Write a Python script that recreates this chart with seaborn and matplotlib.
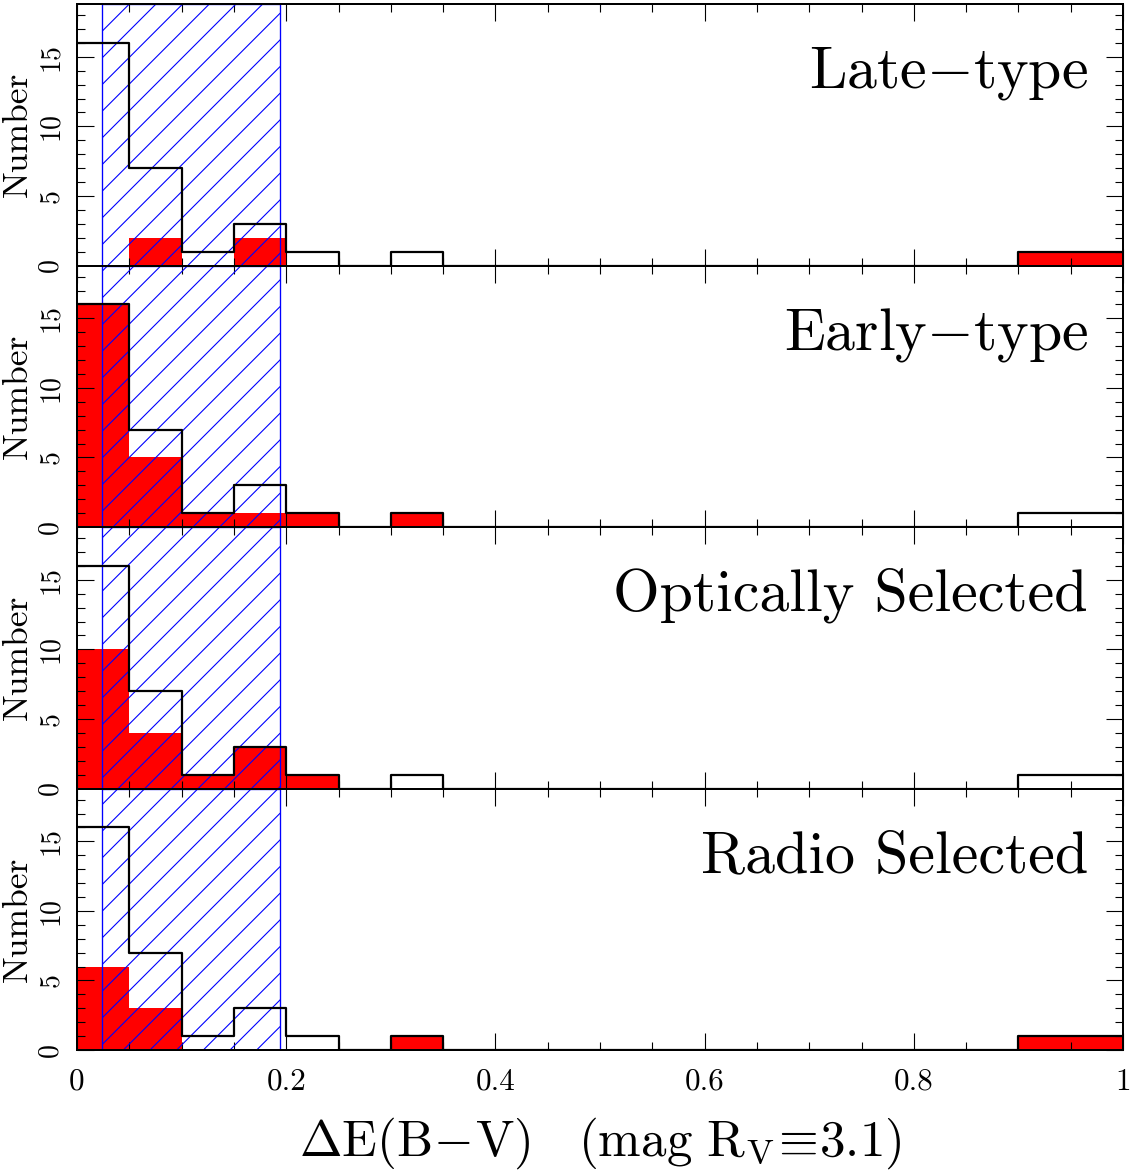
import pandas as pd
import matplotlib
matplotlib.use("Agg")
import matplotlib.pyplot as plt
import seaborn as sns
from matplotlib.ticker import MultipleLocator

# bins of Delta E(B-V), width 0.05 from 0 to 1
bin_edges = [round(0.05 * i, 2) for i in range(21)]
bin_centers = [round(0.05 * i + 0.025, 3) for i in range(20)]

# whole sample (black outline, same in every panel)
total_counts = [16, 7, 1, 3, 1, 0, 1, 0, 0, 0, 0, 0, 0, 0, 0, 0, 0, 0, 1, 1]

# subsets (red)
late_counts = [0, 2, 0, 2, 0, 0, 0, 0, 0, 0, 0, 0, 0, 0, 0, 0, 0, 0, 1, 1]
early_counts = [16, 5, 1, 1, 1, 0, 1, 0, 0, 0, 0, 0, 0, 0, 0, 0, 0, 0, 0, 0]
optical_counts = [10, 4, 1, 3, 1, 0, 0, 0, 0, 0, 0, 0, 0, 0, 0, 0, 0, 0, 0, 0]
radio_counts = [6, 3, 0, 0, 0, 0, 1, 0, 0, 0, 0, 0, 0, 0, 0, 0, 0, 0, 1, 1]

panel_names = [r"Late$-$type", r"Early$-$type", "Optically Selected", "Radio Selected"]
panel_counts = [late_counts, early_counts, optical_counts, radio_counts]

# hatched band
band_lo, band_hi = 0.024, 0.194

x_ticks = [0, 0.2, 0.4, 0.6, 0.8, 1.0]
x_ticklabels = ["0", "0.2", "0.4", "0.6", "0.8", "1"]
y_ticks = [0, 5, 10, 15]

DPI = 160  # hatch cell scales with dpi

plt.rcParams["font.family"] = "cmr10"
plt.rcParams["mathtext.fontset"] = "cm"
plt.rcParams["axes.formatter.use_mathtext"] = True
plt.rcParams["axes.unicode_minus"] = False
plt.rcParams["hatch.linewidth"] = 0.5

fig, axes = plt.subplots(4, 1, figsize=(1131 / DPI, 1173 / DPI), sharex=True)
fig.subplots_adjust(left=77 / 1131, right=1123 / 1131,
                    bottom=1 - 1050 / 1173, top=1 - 4 / 1173, hspace=0)

for ax, name, counts in zip(axes, panel_names, panel_counts):
    df = pd.DataFrame({"dE": bin_centers, "sub": counts, "all": total_counts})
    sns.histplot(data=df, x="dE", weights="sub", bins=bin_edges, element="step",
                 fill=True, color="#ff0000", alpha=1, linewidth=0, ax=ax, zorder=1)
    ax.axvspan(band_lo, band_hi, facecolor="none", edgecolor="#0000ff",
               hatch="//", linewidth=0.6, zorder=2)
    sns.histplot(data=df, x="dE", weights="all", bins=bin_edges, element="step",
                 fill=False, color="black", linewidth=1.0, ax=ax, zorder=3)

    ax.set_xlim(0, 1)
    ax.set_ylim(0, 18.8)

    ax.xaxis.set_major_locator(MultipleLocator(0.2))
    ax.xaxis.set_minor_locator(MultipleLocator(0.05))
    ax.set_yticks(y_ticks)
    ax.set_yticklabels([str(v) for v in y_ticks], rotation=90, va="center",
                       fontsize=12.5)
    ax.yaxis.set_minor_locator(MultipleLocator(1))
    ax.tick_params(which="both", direction="in", top=True, right=True,
                   width=0.5, color="black")
    ax.tick_params(which="major", length=7.5)
    ax.tick_params(which="minor", length=3.8)
    ax.tick_params(axis="y", pad=6)
    for s in ax.spines.values():
        s.set_linewidth(0.9)

    ax.set_ylabel("Number", fontsize=16)
    ax.yaxis.set_label_coords(-0.041, 0.5)
    ax.set_xlabel("")

    ax.text(0.9665, 0.68, name, transform=ax.transAxes, ha="right",
            va="baseline", fontsize=27)

bottom = axes[-1]
bottom.set_xticks(x_ticks)
bottom.set_xticklabels(x_ticklabels, fontsize=14)
bottom.tick_params(axis="x", pad=8)
bottom.set_xlabel(r"$\Delta\mathrm{E(B\!-\!V)}\ \ \ \mathrm{(mag}\ \mathrm{R_V}\!\equiv\!3.1\mathrm{)}$",
                  fontsize=23, labelpad=9)
for ax in axes[:-1]:
    ax.tick_params(axis="x", labelbottom=False)

fig.savefig("out.png", dpi=DPI)
